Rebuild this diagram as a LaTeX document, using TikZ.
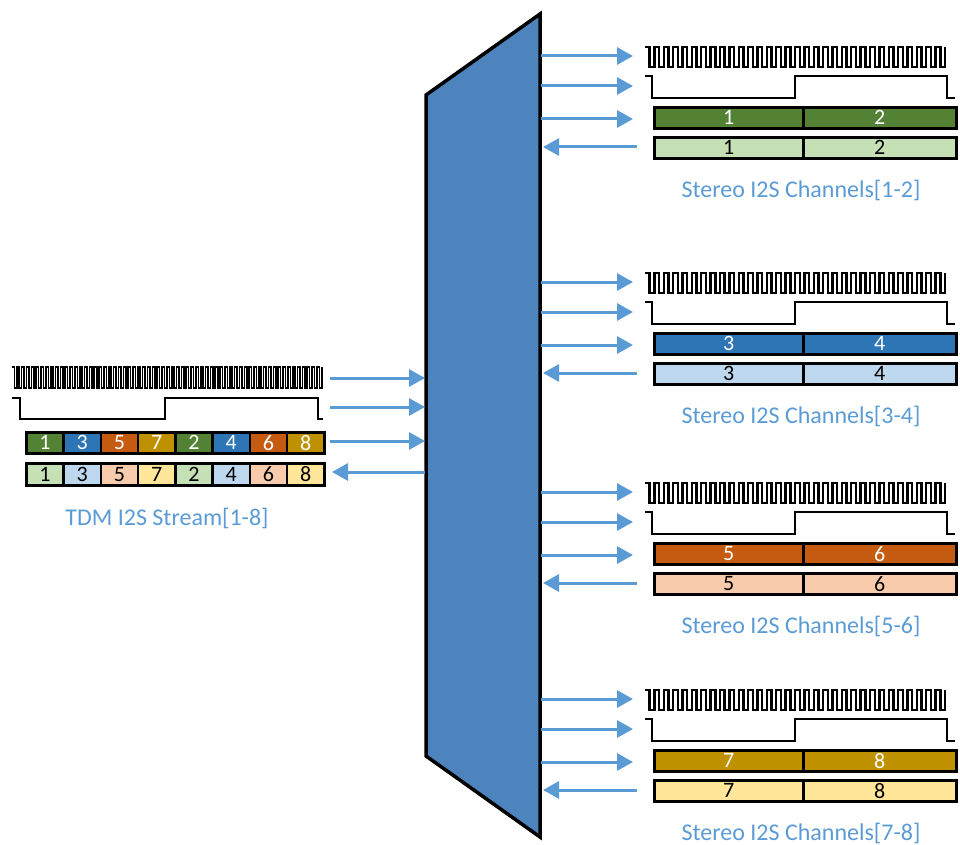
\documentclass[tikz,border=0pt]{standalone}
\usepackage{fontspec}
\setmainfont{Carlito}
\usetikzlibrary{arrows.meta}
\definecolor{arrowblue}{HTML}{5B9BD5}
\definecolor{labelblue}{HTML}{5B9BD5}
\definecolor{trapblue}{HTML}{4E84BD}
\definecolor{gD}{HTML}{548235}
\definecolor{gL}{HTML}{C5E0B4}
\definecolor{bD}{HTML}{2E75B6}
\definecolor{bL}{HTML}{BDD7EE}
\definecolor{oD}{HTML}{C55A11}
\definecolor{oL}{HTML}{F8CBAD}
\definecolor{yD}{HTML}{BF9000}
\definecolor{yL}{HTML}{FFE699}
\tikzset{
  sig/.style={line width=2.4pt, draw=black, line join=miter},
  flow/.style={draw=arrowblue, line width=3pt, -{Triangle[length=16pt,width=17pt]}},
  cell/.style={draw=black, line width=2.6pt, rectangle, inner sep=0pt, anchor=north west,
               font=\fontsize{22}{22}\selectfont},
  lbl/.style={text=labelblue, font=\fontsize{24}{24}\selectfont},
}
\begin{document}
\begin{tikzpicture}[x=1pt,y=-1pt]
\useasboundingbox (0,0) rectangle (960,845);
% central switch
\path[fill=trapblue, draw=black, line width=3.5pt, line join=miter]
  (426,95) -- (540,14) -- (540,837) -- (426,756) -- cycle;

% ---------- right groups ----------
\foreach \o/\dk/\lt/\a/\b/\n in {0/gD/gL/1/2/1, 226/bD/bL/3/4/2, 436/oD/oL/5/6/3, 643/yD/yL/7/8/4}{
  % clock
  \draw[sig] (645,47+\o) foreach \i in {1,...,32} { -- ++(4.6875,0) -- ++(0,20) -- ++(4.6875,0) -- ++(0,-20) };
  % frame sync
  \draw[sig] (645,76+\o) -- (652,76+\o) -- (652,98+\o) -- (795,98+\o) -- (795,76+\o)
     -- (947,76+\o) -- (947,98+\o) -- (955,98+\o);
  % data cells
  \node[cell, fill=\dk, text=white, minimum width=149pt, minimum height=21pt] (tx\n a) at (653,106+\o) {\a};
  \node[cell, fill=\dk, text=white, minimum width=153pt, minimum height=21pt] (tx\n b) at (802,106+\o) {\b};
  \node[cell, fill=\lt, text=black, minimum width=149pt, minimum height=21pt] (rx\n a) at (653,136+\o) {\a};
  \node[cell, fill=\lt, text=black, minimum width=153pt, minimum height=21pt] (rx\n b) at (802,136+\o) {\b};
  % label
  \node[lbl] (lab\n) at (801,190+\o) {Stereo I2S Channels[\a-\b]};
  % connectors
  \coordinate (sC\n) at (541,56+\o);  \coordinate (eC\n) at (633,56+\o);
  \coordinate (sF\n) at (541,86+\o);  \coordinate (eF\n) at (633,86+\o);
  \coordinate (sD\n) at (541,119+\o); \coordinate (eD\n) at (633,119+\o);
  \coordinate (sR\n) at (637,147+\o); \coordinate (eR\n) at (543,147+\o);
  \draw[flow] (sC\n) -- (eC\n);
  \draw[flow] (sF\n) -- (eF\n);
  \draw[flow] (sD\n) -- (eD\n);
  \draw[flow] (sR\n) -- (eR\n);
}

% ---------- left TDM stream ----------
\draw[sig, line width=1.6pt] (12,367) foreach \i in {1,...,64} { -- ++(2.42,0) -- ++(0,21) -- ++(2.42,0) -- ++(0,-21) };
\draw[sig] (12,398) -- (20,398) -- (20,419) -- (165,419) -- (165,398) -- (318,398) -- (318,419) -- (323,419);
\foreach \k/\v/\dk/\lt in {0/1/gD/gL, 1/3/bD/bL, 2/5/oD/oL, 3/7/yD/yL, 4/2/gD/gL, 5/4/bD/bL, 6/6/oD/oL, 7/8/yD/yL}{
  \node[cell, fill=\dk, text=white, minimum width=37.25pt, minimum height=21pt] (tdmT\k) at (25+37.25*\k,431) {\v};
  \node[cell, fill=\lt, text=black, minimum width=37.25pt, minimum height=22pt] (tdmR\k) at (25+37.25*\k,462) {\v};
}
\node[lbl] (tdmlab) at (167,518) {TDM I2S Stream[1-8]};
\coordinate (lC0) at (330,378); \coordinate (lC1) at (425,378);
\coordinate (lF0) at (330,407); \coordinate (lF1) at (425,407);
\coordinate (lD0) at (330,441); \coordinate (lD1) at (425,441);
\coordinate (lR0) at (425,472); \coordinate (lR1) at (332,472);
\draw[flow] (lC0) -- (lC1);
\draw[flow] (lF0) -- (lF1);
\draw[flow] (lD0) -- (lD1);
\draw[flow] (lR0) -- (lR1);
\end{tikzpicture}
\end{document}
